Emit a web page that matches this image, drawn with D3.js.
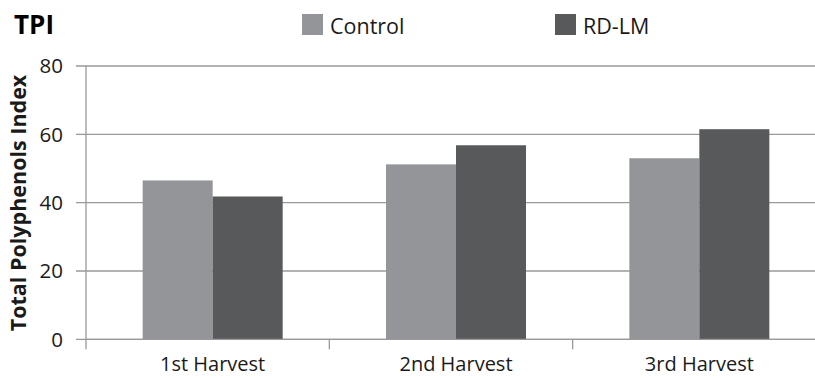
<!DOCTYPE html>
<html><head><meta charset="utf-8">
<script src="https://cdn.jsdelivr.net/npm/d3@7"></script>
<style>body{margin:0;background:#fff}svg{display:block}text{font-family:"Open Sans",sans-serif}</style>
</head><body>
<script>
const categories = ["1st Harvest", "2nd Harvest", "3rd Harvest"];
const seriesNames = ["Control", "RD-LM"];
const controlValues = [46.5, 51.2, 53.0];
const rdlmValues = [41.8, 56.8, 61.5];
const yTicks = [0, 20, 40, 60, 80];
const colors = ["#939598", "#58595b"];

(function () {
const W = 815, H = 378;
const svg = d3.select("body").append("svg").attr("width", W).attr("height", H);
const pLeft = 86, pRight = 816, pTop = 66, pBottom = 339.3;
const y = d3.scaleLinear().domain([0, 80]).range([pBottom, pTop]);
const x = d3.scaleBand().domain(categories).range([pLeft, pRight]);
const off = 5;
const inner = d3.scaleBand().domain(seriesNames).range([0, 140]);
const txt = "#1a1a1a";

// gridlines
svg.append("g").selectAll("line").data(yTicks).join("line")
  .attr("x1", pLeft - 10).attr("x2", 815).attr("y1", d => y(d)).attr("y2", d => y(d))
  .attr("stroke", "#999").attr("stroke-width", 1.3);
// y tick labels
svg.append("g").selectAll("text").data(yTicks).join("text")
  .attr("x", 63).attr("y", d => y(d)).attr("dy", "0.36em").attr("text-anchor", "end")
  .attr("font-size", 20.5).attr("fill", txt).text(d => d);

// bars
const data = categories.map((c, i) => ({c, vals: [controlValues[i], rdlmValues[i]]}));
const g = svg.append("g").selectAll("g").data(data).join("g")
  .attr("transform", d => `translate(${x(d.c) + x.bandwidth() / 2 + off - 70},0)`);
g.selectAll("rect").data(d => d.vals.map((v, j) => ({v, s: seriesNames[j], j}))).join("rect")
  .attr("x", d => inner(d.s)).attr("width", inner.bandwidth())
  .attr("y", d => y(d.v)).attr("height", d => pBottom - y(d.v))
  .attr("fill", d => colors[d.j]);

// axes lines
svg.append("line").attr("x1", pLeft).attr("x2", pLeft).attr("y1", pTop).attr("y2", pBottom + 10)
  .attr("stroke", "#999").attr("stroke-width", 1.3);
svg.append("line").attr("x1", pLeft).attr("x2", 815).attr("y1", pBottom).attr("y2", pBottom)
  .attr("stroke", "#999").attr("stroke-width", 1.3);
svg.append("g").selectAll("line").data(categories.slice(1)).join("line")
  .attr("x1", d => x(d)).attr("x2", d => x(d)).attr("y1", pBottom).attr("y2", pBottom + 10)
  .attr("stroke", "#999").attr("stroke-width", 1.3);

// x labels
svg.append("g").selectAll("text").data(categories).join("text")
  .attr("x", d => x(d) + x.bandwidth() / 2 + off).attr("y", 371).attr("text-anchor", "middle")
  .attr("font-size", 20).attr("fill", txt).text(d => d);

// y title
svg.append("text").attr("transform", "translate(26,203) rotate(-90)").attr("text-anchor", "middle")
  .attr("font-size", 21.5).attr("font-weight", "bold").attr("fill", txt).text("Total Polyphenols Index");

// title
svg.append("text").attr("x", 14).attr("y", 34).attr("font-size", 26).attr("font-weight", "bold")
  .attr("fill", "#000").text("TPI");

// legend
const legX = [302, 555];
const leg = svg.append("g").selectAll("g").data(seriesNames).join("g")
  .attr("transform", (d, i) => `translate(${legX[i]},14)`);
leg.append("rect").attr("width", 21).attr("height", 21).attr("fill", (d, i) => colors[i]);
leg.append("text").attr("x", 28).attr("y", 20).attr("font-size", 21.5).attr("fill", txt).text(d => d);
})();
</script>
</body></html>
